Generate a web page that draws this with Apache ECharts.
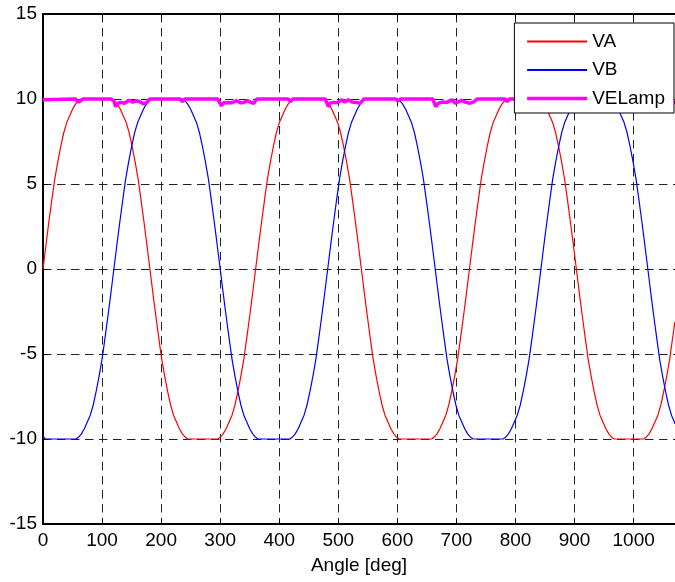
<!DOCTYPE html>
<html>
<head>
<meta charset="utf-8">
<script src="https://cdn.jsdelivr.net/npm/echarts@6/dist/echarts.min.js"></script>
<style>
html,body{margin:0;padding:0;background:#fff;}
#chart{width:675px;height:582px;}
</style>
</head>
<body>
<div id="chart"></div>
<script>
// ---- data ----
var xTicks = [0,100,200,300,400,500,600,700,800,900,1000];
var yTicks = [-15,-10,-5,0,5,10,15];
var seriesNames = ['VA','VB','VELamp'];

var vaX = [0,5,10,15,20,25,30,35,40,45,50,55,60,64,
  117,121,126,131,136,141,146,151,156,161,166,171,176,181,186,191,196,201,206,211,216,221,226,231,236,241,245,
  296,300,305,310,315,320,325,330,335,340,345,350,355,360,365,370,375,380,385,390,395,400,405,410,415,420,424,
  475,479,484,489,494,499,504,509,514,519,524,529,534,539,544,549,554,559,564,569,574,579,584,589,594,599,603,
  658,662,667,672,677,682,687,692,697,702,707,712,717,722,727,732,737,742,747,752,757,762,767,772,777,782,786,
  839,843,848,853,858,863,868,873,878,883,888,893,898,903,908,913,918,923,928,933,938,943,948,953,958,963,967,
  1017,1021,1026,1031,1036,1041,1046,1051,1056,1061,1066,1070];
var vaY = [0,1.4,2.8,4.1,5.3,6.3,7.2,8.0,8.6,9.0,9.4,9.7,9.9,10,
  10,9.9,9.7,9.4,9.0,8.6,8.0,7.2,6.3,5.3,4.05,2.75,1.4,0,-1.4,-2.75,-4.05,-5.3,-6.3,-7.2,-8.0,-8.6,-9.0,-9.4,-9.7,-9.9,-10,
  -10,-9.9,-9.7,-9.4,-9.0,-8.6,-8.0,-7.2,-6.3,-5.3,-4.05,-2.75,-1.4,0,1.4,2.75,4.05,5.3,6.3,7.2,8.0,8.6,9.0,9.4,9.7,9.9,10,
  10,9.9,9.7,9.4,9.0,8.6,8.0,7.2,6.3,5.3,4.05,2.75,1.4,0,-1.4,-2.75,-4.05,-5.3,-6.3,-7.2,-8.0,-8.6,-9.0,-9.4,-9.7,-9.9,-10,
  -10,-9.9,-9.7,-9.4,-9.0,-8.6,-8.0,-7.2,-6.3,-5.3,-4.05,-2.75,-1.4,0,1.4,2.75,4.05,5.3,6.3,7.2,8.0,8.6,9.0,9.4,9.7,9.9,10,
  10,9.9,9.7,9.4,9.0,8.6,8.0,7.2,6.3,5.3,4.05,2.75,1.4,0,-1.4,-2.75,-4.05,-5.3,-6.3,-7.2,-8.0,-8.6,-9.0,-9.4,-9.7,-9.9,-10,
  -10,-9.9,-9.7,-9.4,-9.0,-8.6,-8.0,-7.2,-6.3,-5.3,-4.05,-3.1];

var vbX = [0,4,56,60,65,70,75,80,85,90,95,100,105,110,115,120,125,130,135,140,145,150,155,160,165,170,175,180,184,
  236,240,245,250,255,260,265,270,275,280,285,290,295,300,305,310,315,320,325,330,335,340,345,350,355,360,364,
  418,422,427,432,437,442,447,452,457,462,467,472,477,482,487,492,497,502,507,512,517,522,527,532,537,542,546,
  600,604,609,614,619,624,629,634,639,644,649,654,659,664,669,674,679,684,689,694,699,704,709,714,719,724,728,
  779,783,788,793,798,803,808,813,818,823,828,833,838,843,848,853,858,863,868,873,878,883,888,893,898,903,907,
  960,964,969,974,979,984,989,994,999,1004,1009,1014,1019,1024,1029,1034,1039,1044,1049,1054,1059,1064,1069,1070];
var vbY = [-9.85,-10,-10,-9.9,-9.7,-9.4,-9.0,-8.6,-8.0,-7.2,-6.3,-5.3,-4.05,-2.75,-1.4,0,1.4,2.75,4.05,5.3,6.3,7.2,8.0,8.6,9.0,9.4,9.7,9.9,10,
  10,9.9,9.7,9.4,9.0,8.6,8.0,7.2,6.3,5.3,4.05,2.75,1.4,0,-1.4,-2.75,-4.05,-5.3,-6.3,-7.2,-8.0,-8.6,-9.0,-9.4,-9.7,-9.9,-10,
  -10,-9.9,-9.7,-9.4,-9.0,-8.6,-8.0,-7.2,-6.3,-5.3,-4.05,-2.75,-1.4,0,1.4,2.75,4.05,5.3,6.3,7.2,8.0,8.6,9.0,9.4,9.7,9.9,10,
  10,9.9,9.7,9.4,9.0,8.6,8.0,7.2,6.3,5.3,4.05,2.75,1.4,0,-1.4,-2.75,-4.05,-5.3,-6.3,-7.2,-8.0,-8.6,-9.0,-9.4,-9.7,-9.9,-10,
  -10,-9.9,-9.7,-9.4,-9.0,-8.6,-8.0,-7.2,-6.3,-5.3,-4.05,-2.75,-1.4,0,1.4,2.75,4.05,5.3,6.3,7.2,8.0,8.6,9.0,9.4,9.7,9.9,10,
  10,9.9,9.7,9.4,9.0,8.6,8.0,7.2,6.3,5.3,4.05,2.75,1.4,0,-1.4,-2.75,-4.05,-5.3,-6.3,-7.2,-8.0,-8.6,-9.0,-9.1];

var lampX = [0,55,60,64,68,115,120,123,126,132,138,146,152,158,163,170,176,181,232,236,240,
  296,299,302,306,312,320,328,334,340,346,352,357,362,415,419,423,
  478,480,483,486,492,498,505,511,517,523,530,537,543,597,601,605,
  660,662,665,669,676,684,692,698,704,709,716,723,730,735,782,786,790,
  840,843,847,855,870,885,900,905,962,966,970,1020,1024,1028,1040,1055,1070];
var lampY = [9.95,10,9.82,9.9,10,10,9.9,9.55,9.75,9.8,9.75,9.92,9.82,9.9,9.85,9.72,9.8,10,10,9.85,10,
  10,9.9,9.6,9.78,9.8,9.78,9.9,9.78,9.8,9.9,9.8,9.75,10,10,9.85,10,
  10,9.9,9.55,9.75,9.8,9.78,9.95,9.82,9.95,9.82,9.8,9.75,10,10,9.88,10,
  10,9.9,9.55,9.75,9.82,9.8,9.95,9.75,9.85,9.92,9.8,9.75,9.85,10,10,9.85,10,
  10,9.55,9.75,9.8,9.85,9.8,9.8,10,10,9.88,10,10,9.55,9.75,9.8,9.85,9.8];

function pairs(xs, ys){ return xs.map(function(x,i){ return [x, ys[i]]; }); }

var FONT = 'Liberation Sans, Arial, sans-serif';
var chart = echarts.init(document.getElementById('chart'), null, {renderer:'canvas'});
var gridDash = {color:'#222', width:1, type:[8.5,5.5]};
var lineWidths = {VA:1.2, VB:1.2, VELamp:3.5};
var lineColors = {VA:'#ff0000', VB:'#0000ff', VELamp:'#ff00ff'};
chart.setOption({
  animation:false,
  backgroundColor:'#fff',
  color:[lineColors.VA, lineColors.VB, lineColors.VELamp],
  grid:{left:43, right:0, top:14, bottom:58, containLabel:false},
  legend:{
    data:[seriesNames[0], seriesNames[1], {name:seriesNames[2], lineStyle:{color:lineColors.VELamp, width:lineWidths.VELamp}}],
    orient:'vertical', right:1, top:23, z:20,
    backgroundColor:'#fff', borderColor:'#000', borderWidth:1, borderRadius:0,
    padding:[9,9,5,11], itemWidth:60, itemHeight:18, itemGap:9.5,
    selectedMode:false,
    itemStyle:{opacity:0},
    textStyle:{fontFamily:FONT, fontSize:19, color:'#000'}
  },
  xAxis:[{
    type:'value', min:0, max:1070, interval:100,
    name:'Angle [deg]', nameLocation:'middle', nameGap:32,
    nameTextStyle:{fontFamily:FONT, fontSize:19, color:'#000'},
    axisLine:{show:true, onZero:false, lineStyle:{color:'#000', width:2}},
    axisTick:{show:true, inside:true, length:5, lineStyle:{color:'#000'}},
    axisLabel:{fontFamily:FONT, fontSize:19, color:'#000', margin:7, showMaxLabel:false,
      formatter:function(v){ return xTicks.indexOf(v) >= 0 ? String(v) : ''; }},
    splitLine:{show:true, lineStyle:gridDash}
  },{
    type:'value', min:0, max:1070, interval:100, position:'top',
    axisLine:{show:true, onZero:false, lineStyle:{color:'#000', width:2}},
    axisTick:{show:true, inside:true, length:5, lineStyle:{color:'#000'}},
    axisLabel:{show:false}, splitLine:{show:false}
  }],
  yAxis:{
    type:'value', min:-15, max:15, interval:5,
    axisLine:{show:true, onZero:false, lineStyle:{color:'#000', width:2}},
    axisTick:{show:true, inside:true, length:5, lineStyle:{color:'#000'}},
    axisLabel:{fontFamily:FONT, fontSize:19, color:'#000', margin:6,
      formatter:function(v){ return yTicks.indexOf(v) >= 0 ? String(v) : ''; }},
    splitLine:{show:true, lineStyle:gridDash}
  },
  series:[
    {name:'VA', type:'line', data:pairs(vaX, vaY), symbol:'none', lineStyle:{color:lineColors.VA, width:lineWidths.VA}, itemStyle:{color:lineColors.VA}, z:2},
    {name:'VB', type:'line', data:pairs(vbX, vbY), symbol:'none', lineStyle:{color:lineColors.VB, width:lineWidths.VB}, itemStyle:{color:lineColors.VB}, z:2},
    {name:'VELamp', type:'line', data:pairs(lampX, lampY), symbol:'none', lineStyle:{color:lineColors.VELamp, width:lineWidths.VELamp}, itemStyle:{color:lineColors.VELamp}, z:3}
  ]
});
</script>
</body>
</html>
